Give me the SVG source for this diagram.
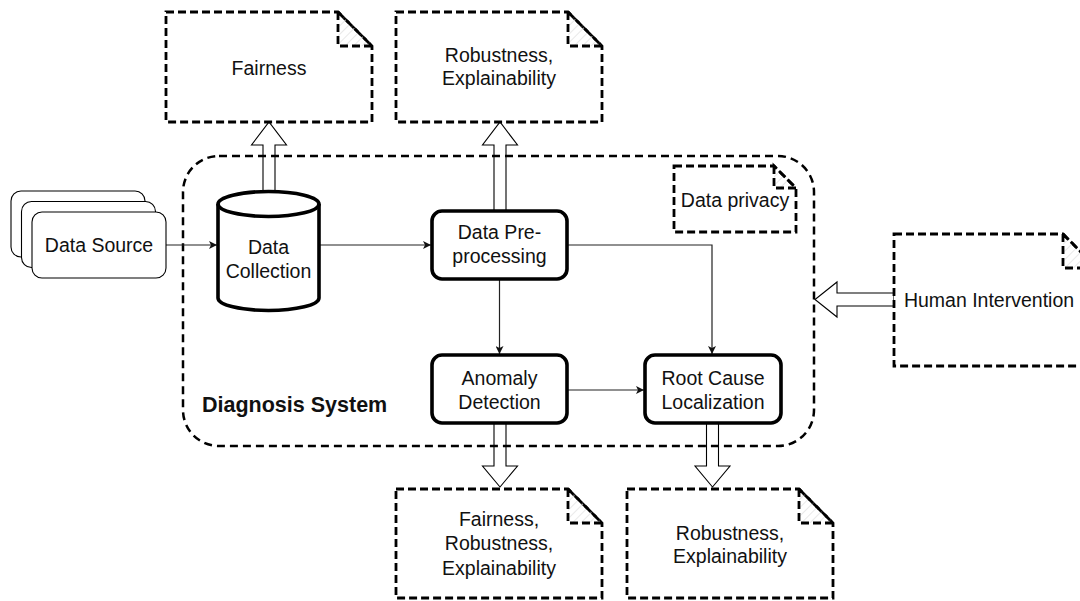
<svg xmlns="http://www.w3.org/2000/svg" width="1080" height="601" viewBox="0 0 1080 601">
  <defs>
    <style>
      .txt { font-family: "Liberation Sans", Arial, Helvetica, sans-serif; font-size: 19.5px; fill: #111; text-anchor: middle; }
      .bold { font-weight: bold; font-size: 21.5px; text-anchor: start; }
      .note { fill: #fff; stroke: #000; stroke-width: 2.8; stroke-dasharray: 8 4; }
      .fold { fill: url(#hatch); stroke: #000; stroke-width: 2.8; stroke-dasharray: 8 4; }
      .container { fill: none; stroke: #000; stroke-width: 2.5; stroke-dasharray: 8 5; }
      .proc { fill: #fff; stroke: #000; stroke-width: 3.6; }
      .src { fill: #fff; stroke: #000; stroke-width: 1.1; }
      .hollow { fill: #fff; stroke: #000; stroke-width: 1.1; }
      .conn { fill: none; stroke: #222; stroke-width: 1.2; }
    </style>
    <pattern id="hatch" width="6" height="6" patternUnits="userSpaceOnUse" patternTransform="rotate(45)">
      <line x1="0" y1="0" x2="0" y2="6" stroke="#e2e2e2" stroke-width="1.5"/>
    </pattern>
    <marker id="arrow" viewBox="0 0 10 10" refX="10" refY="5" markerWidth="8" markerHeight="8" markerUnits="userSpaceOnUse" orient="auto">
      <path d="M0,0 L10,5 L0,10 L2.5,5 Z" fill="#111"/>
    </marker>
  </defs>

  <!-- hollow block arrows -->
  <g id="block-arrows">
    <polygon class="hollow" points="263,192 263,145 251.5,145 269,122 286.5,145 275,145 275,192"/>
    <polygon class="hollow" points="494,211 494,145 482.5,145 500,122 517.5,145 506,145 506,211"/>
    <polygon class="hollow" points="494,423 494,466 482.5,466 500,487 517.5,466 506,466 506,423"/>
    <polygon class="hollow" points="706.5,423 706.5,466 695,466 712.5,487 730,466 718.5,466 718.5,423"/>
    <polygon class="hollow" points="894,293 837,293 837,282 815,299.5 837,317 837,306 894,306"/>
  </g>

  <!-- diagnosis system boundary -->
  <g id="diagnosis-system">
    <rect class="container" x="183" y="156" width="631" height="290" rx="36" ry="36"/>
    <text class="txt bold" x="202" y="412">Diagnosis System</text>
  </g>

  <!-- thin connectors -->
  <g id="connectors">
    <path class="conn" d="M166,245 H217" marker-end="url(#arrow)"/>
    <path class="conn" d="M320,245 H431" marker-end="url(#arrow)"/>
    <path class="conn" d="M567,245 H712 V354" marker-end="url(#arrow)"/>
    <path class="conn" d="M499.5,279 V354" marker-end="url(#arrow)"/>
    <path class="conn" d="M567,390 H644" marker-end="url(#arrow)"/>
  </g>

  <!-- data source (stacked) -->
  <g id="data-source">
    <rect class="src" x="11" y="191" width="134" height="66" rx="10"/>
    <rect class="src" x="21.5" y="201.5" width="134" height="66" rx="10"/>
    <rect class="src" x="32" y="212" width="134" height="66" rx="10"/>
    <text class="txt" x="99" y="252">Data Source</text>
  </g>

  <!-- data collection cylinder -->
  <g id="data-collection">
    <path class="proc" d="M218,204 A50.5,12.5 0 0 1 319,204 L319,298 A50.5,12.5 0 0 1 218,298 Z"/>
    <path fill="none" stroke="#000" stroke-width="3.6" d="M218,204 A50.5,12.5 0 0 0 319,204"/>
    <text class="txt" x="268.5" y="254">Data</text>
    <text class="txt" x="268.5" y="278">Collection</text>
  </g>

  <g id="data-preprocessing">
    <rect class="proc" x="432" y="211" width="135" height="68" rx="10"/>
    <text class="txt" x="499.5" y="239">Data Pre-</text>
    <text class="txt" x="499.5" y="263">processing</text>
  </g>

  <g id="anomaly-detection">
    <rect class="proc" x="432" y="355" width="135" height="68" rx="10"/>
    <text class="txt" x="499.5" y="385">Anomaly</text>
    <text class="txt" x="499.5" y="409">Detection</text>
  </g>

  <g id="root-cause-localization">
    <rect class="proc" x="645" y="355" width="136" height="68" rx="10"/>
    <text class="txt" x="713" y="385">Root Cause</text>
    <text class="txt" x="713" y="409">Localization</text>
  </g>

  <!-- notes -->
  <g id="note-fairness">
    <path class="note" d="M166,12 H338 L372,46 V122 H166 Z"/>
    <path class="fold" d="M338,12 V46 H372 Z"/>
    <text class="txt" x="269" y="75">Fairness</text>
  </g>

  <g id="note-preprocessing">
    <path class="note" d="M396,12 H568 L602,46 V122 H396 Z"/>
    <path class="fold" d="M568,12 V46 H602 Z"/>
    <text class="txt" x="499" y="62">Robustness,</text>
    <text class="txt" x="499" y="85">Explainability</text>
  </g>

  <g id="note-privacy">
    <path class="note" d="M674,166 H774 L796,188 V232 H674 Z"/>
    <path class="fold" d="M774,166 V188 H796 Z"/>
    <text class="txt" x="735" y="207">Data privacy</text>
  </g>

  <g id="note-human">
    <path class="note" d="M894,234 H1063 L1097,268 V366 H894 Z"/>
    <path class="fold" d="M1063,234 V268 H1097 Z"/>
    <text class="txt" x="989" y="307">Human Intervention</text>
  </g>

  <g id="note-detection">
    <path class="note" d="M396,489 H568 L602,523 V598 H396 Z"/>
    <path class="fold" d="M568,489 V523 H602 Z"/>
    <text class="txt" x="499" y="526">Fairness,</text>
    <text class="txt" x="499" y="550">Robustness,</text>
    <text class="txt" x="499" y="575">Explainability</text>
  </g>

  <g id="note-localization">
    <path class="note" d="M627,489 H799 L833,523 V598 H627 Z"/>
    <path class="fold" d="M799,489 V523 H833 Z"/>
    <text class="txt" x="730" y="540">Robustness,</text>
    <text class="txt" x="730" y="563">Explainability</text>
  </g>
</svg>
